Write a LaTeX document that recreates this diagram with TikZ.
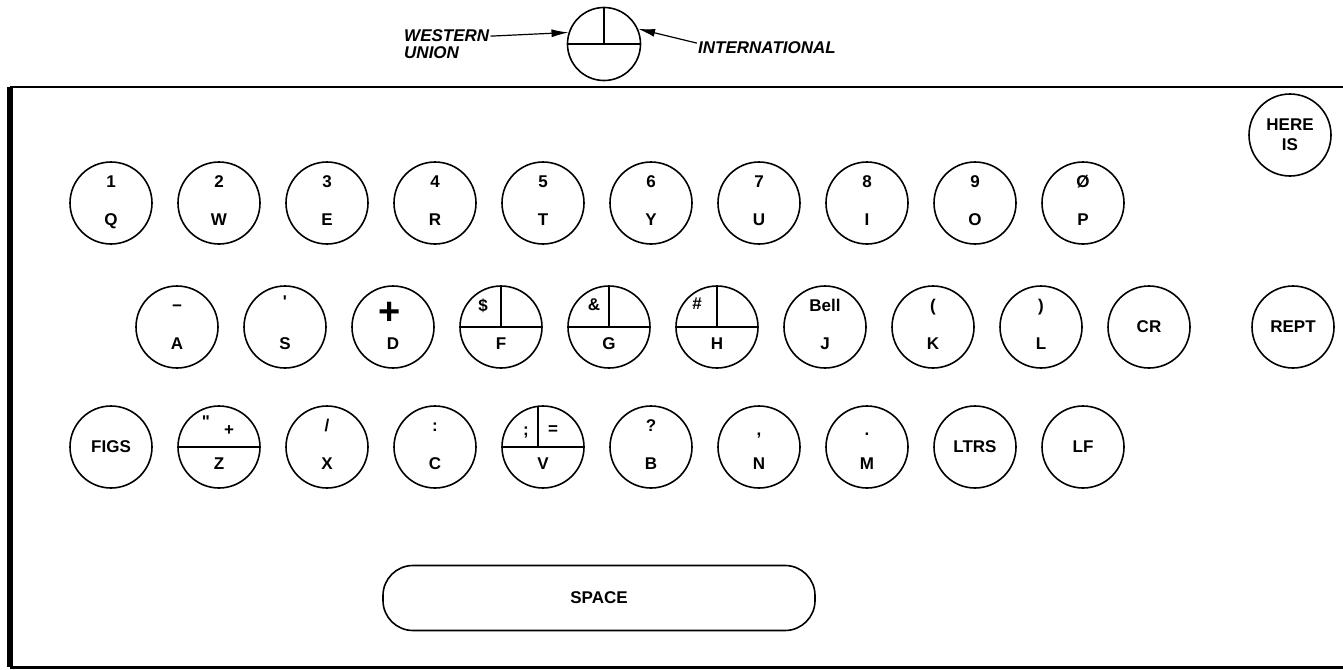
\documentclass[tikz,border=0pt]{standalone}
\usepackage{fontspec}
\setmainfont{Liberation Sans}
\usetikzlibrary{arrows.meta}
\newcommand\keyfont{\fontsize{17}{20}\selectfont\bfseries}
\newcommand\legfont{\fontsize{17}{19}\selectfont\bfseries\itshape}
\tikzset{
  keyc/.style={circle, draw, line width=1.6pt, minimum size=82pt, inner sep=0pt},
  lbl/.style={font=\keyfont, inner sep=0pt},
  divline/.style={line width=1.6pt},
  legend/.style={font=\legfont, inner sep=1pt},
  legarrow/.style={line width=1.2pt, -{Latex[length=17pt,width=8pt]}},
  spacebar/.style={draw, line width=1.6pt, rounded corners=30pt, minimum width=432pt, minimum height=65pt, inner sep=0pt}
}
% key with an upper and a lower label
\newcommand\keyTB[5]{%
  \node[keyc] (#1) at (#2,#3) {};
  \node[lbl, anchor=base] (#1-t) at ([yshift=16pt]#1.center) {#4};
  \node[lbl, anchor=base] (#1-b) at ([yshift=-22pt]#1.center) {#5};
}
% key with only a lower label
\newcommand\keyB[4]{%
  \node[keyc] (#1) at (#2,#3) {};
  \node[lbl, anchor=base] (#1-b) at ([yshift=-22pt]#1.center) {#4};
}
% key with one centred label
\newcommand\keyC[4]{%
  \node[keyc] (#1) at (#2,#3) {};
  \node[lbl] (#1-l) at (#1.center) {#4};
}
\begin{document}
\begin{tikzpicture}[x=1pt,y=-1pt,line join=round]
\useasboundingbox (0,0) rectangle (1343,669);

% ---- frame
\coordinate (ftl) at (10,87);
\coordinate (ftr) at (1343,87);
\coordinate (fbl) at (10,667);
\coordinate (fbr) at (1343,667);
\draw[line width=2pt] (ftl) -- (ftr);
\draw[line width=6pt] (ftl) -- (fbl);
\draw[line width=3pt] (fbl) -- (fbr);

% ---- selector legend
\node[keyc, minimum size=73pt] (sel) at (604,44) {};
\draw[divline] (sel.west) -- (sel.east);
\draw[divline] (sel.north) -- (sel.center);
\node[legend, anchor=base west] (wu1) at (403,42) {WESTERN};
\node[legend, anchor=base west] (wu2) at (403,59) {UNION};
\node[legend, anchor=base west] (intl) at (697,53) {INTERNATIONAL};
\draw[legarrow] (wu1.east) -- (sel.162);
\draw[legarrow] ([yshift=4pt]intl.west) -- (sel.24);

% ---- row 1
\keyTB{k1}{111}{203}{1}{Q}
\keyTB{k2}{219}{203}{2}{W}
\keyTB{k3}{327}{203}{3}{E}
\keyTB{k4}{435}{203}{4}{R}
\keyTB{k5}{543}{203}{5}{T}
\keyTB{k6}{651}{203}{6}{Y}
\keyTB{k7}{759}{203}{7}{U}
\keyTB{k8}{867}{203}{8}{I}
\keyTB{k9}{975}{203}{9}{O}
\keyTB{k0}{1083}{203}{Ø}{P}
\node[keyc] (here) at (1290,135) {};
\node[lbl, align=center] (here-l) at (here.center) {HERE\\IS};

% ---- row 2
\keyTB{ka}{177}{327}{−}{A}
\keyB{ks}{285}{327}{S}
\node[lbl, anchor=base] (ks-t) at ([yshift=20pt]ks.center) {\textquotesingle};
\keyB{kd}{393}{327}{D}
\node[inner sep=0pt, font=\fontsize{38}{38}\selectfont\bfseries] (kd-t) at ([xshift=-3pt,yshift=14pt]kd.center) {+};
\keyB{kf}{501}{327}{F}
\draw[divline] (kf.west) -- (kf.east);
\draw[divline] (kf.north) -- (kf.center);
\node[lbl] (kf-t) at ([xshift=-18pt,yshift=21pt]kf.center) {\$};
\keyB{kg}{609}{327}{G}
\draw[divline] (kg.west) -- (kg.east);
\draw[divline] (kg.north) -- (kg.center);
\node[lbl] (kg-t) at ([xshift=-15pt,yshift=22pt]kg.center) {\&};
\keyB{kh}{717}{327}{H}
\draw[divline] (kh.west) -- (kh.east);
\draw[divline] (kh.north) -- (kh.center);
\node[lbl] (kh-t) at ([xshift=-20pt,yshift=23pt]kh.center) {\#};
\keyTB{kj}{825}{327}{Bell}{J}
\keyTB{kk}{933}{327}{(}{K}
\keyTB{kl}{1041}{327}{)}{L}
\keyC{kcr}{1149}{327}{CR}
\keyC{krept}{1293}{327}{REPT}

% ---- row 3
\keyC{kfigs}{111}{447}{FIGS}
\keyB{kz}{219}{447}{Z}
\draw[divline] (kz.west) -- (kz.east);
\node[lbl] (kz-t1) at ([xshift=-13pt,yshift=25pt]kz.center) {\textquotedbl};
\node[lbl] (kz-t2) at ([xshift=10pt,yshift=16pt]kz.center) {+};
\keyTB{kx}{327}{447}{/}{X}
\keyTB{kc}{435}{447}{:}{C}
\keyB{kv}{543}{447}{V}
\draw[divline] (kv.west) -- (kv.east);
\draw[divline] ([xshift=-5pt]kv.center) -- ([xshift=-5pt,yshift=40.7pt]kv.center);
\node[lbl] (kv-t1) at ([xshift=-17pt,yshift=14pt]kv.center) {;};
\node[lbl] (kv-t2) at ([xshift=10pt,yshift=17pt]kv.center) {=};
\keyTB{kb}{651}{447}{?}{B}
\keyB{kn}{759}{447}{N}
\node[lbl, anchor=base] (kn-t) at ([yshift=12pt]kn.center) {,};
\keyB{km}{867}{447}{M}
\node[lbl, anchor=base] (km-t) at ([yshift=12pt]km.center) {.};
\keyC{kltrs}{975}{447}{LTRS}
\keyC{klf}{1083}{447}{LF}

% ---- space bar
\node[spacebar] (space) at (599,598) {};
\node[lbl] (space-l) at (space.center) {SPACE};
\end{tikzpicture}
\end{document}
